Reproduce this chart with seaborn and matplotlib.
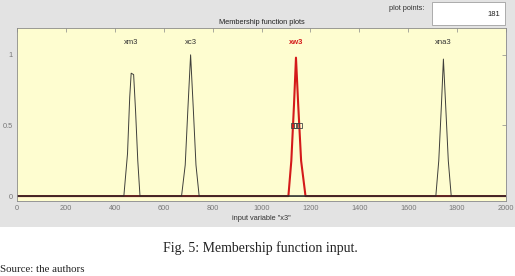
import matplotlib.pyplot as plt
import seaborn as sns
import pandas as pd
from matplotlib.patches import Rectangle

# membership functions (input variable "x3", 181 plot points)
mf_names = ["xm3", "xc3", "xw3", "xna3"]
xm3_x = [0, 437, 452, 461, 467, 477, 485, 494, 503, 2000]
xm3_y = [0, 0, 0.30, 0.70, 0.87, 0.86, 0.60, 0.25, 0, 0]
xc3_x = [0, 673, 688, 699, 710, 721, 732, 745, 2000]
xc3_y = [0, 0, 0.22, 0.62, 1.0, 0.62, 0.22, 0, 0]
xw3_x = [0, 1110, 1122, 1133, 1141, 1150, 1162, 1180, 2000]
xw3_y = [0, 0, 0.25, 0.65, 0.98, 0.65, 0.25, 0, 0]
xna3_x = [0, 1713, 1725, 1736, 1744, 1753, 1764, 1776, 2000]
xna3_y = [0, 0, 0.25, 0.65, 0.97, 0.65, 0.25, 0, 0]
selected = "xw3"
plot_points = 181
xticks = list(range(0, 2001, 200))
yticks = [0, 0.5, 1]
ytick_labels = ["0", "0.5", "1"]

mf_x = [xm3_x, xc3_x, xw3_x, xna3_x]
mf_y = [xm3_y, xc3_y, xw3_y, xna3_y]
frames = []
for name, xs, ys in zip(mf_names, mf_x, mf_y):
    frames.append(pd.DataFrame({"x": xs, "mu": ys, "mf": name}))
df = pd.concat(frames, ignore_index=True)

sns.set_style("white")
plt.rcParams["font.family"] = ["Liberation Sans", "DejaVu Sans"]

fig = plt.figure(figsize=(5.15, 2.76), dpi=100)
fig.patch.set_facecolor("white")
# grey gui panel behind the plot
fig.patches.append(Rectangle((0, 1 - 227 / 276), 1, 227 / 276, transform=fig.transFigure,
                             facecolor="#e3e3e3", edgecolor="none", zorder=-10))

ax = fig.add_axes([17 / 515, 1 - 201 / 276, 489 / 515, 173 / 276])
ax.set_zorder(1)
ax.set_facecolor("#fefdd0")

red = "#d41a1a"
# selected function first, others on top so the shared baseline looks brownish
sns.lineplot(data=df[df.mf == selected], x="x", y="mu", sort=False, estimator=None,
             color=red, linewidth=1.5, ax=ax)
for name in mf_names:
    if name == selected:
        continue
    sns.lineplot(data=df[df.mf == name], x="x", y="mu", sort=False, estimator=None,
                 color="#2a2a2a", linewidth=0.7, alpha=0.9, ax=ax)

# names above the peaks
for name, xs, ys in zip(mf_names, mf_x, mf_y):
    peak = xs[ys.index(max(ys))]
    if name == selected:
        ax.text(peak, 1.09, name, color=red, fontsize=5.5, fontweight="bold",
                ha="center", va="center")
    else:
        ax.text(peak, 1.09, name, color="#333333", fontsize=5.5, ha="center", va="center")

# selection handle on the red function
sel_x = xw3_x[xw3_y.index(max(xw3_y))]
ax.plot([sel_x - 13, sel_x, sel_x + 13], [0.5, 0.5, 0.5], linestyle="none", marker="s",
        markersize=3.6, markerfacecolor="none", markeredgecolor="#444444",
        markeredgewidth=0.6)

ax.set_xlim(0, 2000)
ax.set_ylim(-0.035, 1.19)
ax.set_xticks(xticks)
ax.set_yticks(yticks)
ax.set_yticklabels(ytick_labels)
ax.tick_params(direction="in", length=3, width=0.5, colors="#888888", labelsize=5.3,
               labelcolor="#777777", top=True, right=True, pad=3)
for s in ax.spines.values():
    s.set_color("#8a8a8a")
    s.set_linewidth(0.6)
ax.set_xlabel('input variable "x3"', fontsize=5.3, color="#333333", labelpad=2)
ax.set_ylabel("")
ax.set_title("Membership function plots", fontsize=5.3, color="#222222", pad=3)

# plot points box
fig.text(424 / 515, 1 - 9 / 276, "plot points:", fontsize=5.3, color="#333333",
         ha="right", va="center")
fig.patches.append(Rectangle((432 / 515, 1 - 25 / 276), 73 / 515, 23 / 276,
                             transform=fig.transFigure, facecolor="white",
                             edgecolor="#a0a0a0", linewidth=0.6, zorder=1))
fig.text(500 / 515, 1 - 14 / 276, str(plot_points), fontsize=5.5, color="#222222",
         ha="right", va="center")

# caption under the screenshot
fig.text(260 / 515, 1 - 248 / 276, "Fig. 5: Membership function input.",
         family=["Liberation Serif", "DejaVu Serif"], fontsize=10, color="#222222",
         ha="center", va="center")
fig.text(0, 1 - 269 / 276, "Source: the authors",
         family=["Liberation Serif", "DejaVu Serif"], fontsize=7.8, color="#222222",
         ha="left", va="center")

fig.savefig("out.png", dpi=100)
